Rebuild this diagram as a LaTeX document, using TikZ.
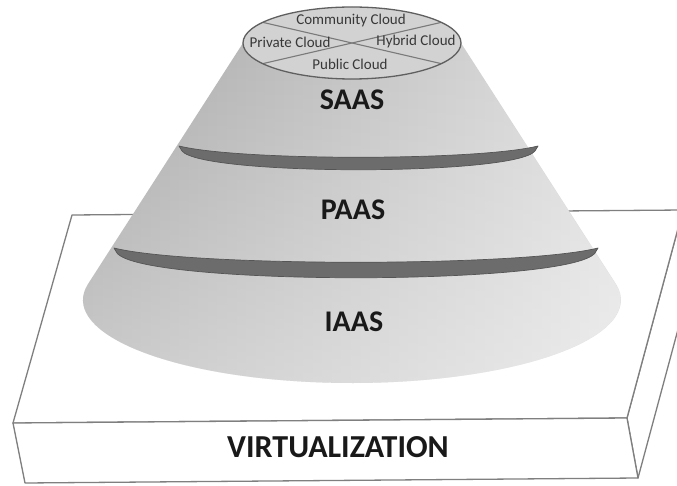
\documentclass[tikz,border=0pt]{standalone}
\usepackage{fontspec}
\setmainfont{Carlito}
\usepackage{tikz}
\usetikzlibrary{calc}
\usetikzlibrary{fadings}
\definecolor{slabgray}{HTML}{7F7F7F}
\definecolor{conedark}{HTML}{A6A6A6}
\definecolor{conemid}{HTML}{C8C8C8}
\definecolor{conelight}{HTML}{E2E2E2}
\definecolor{rimgray}{HTML}{6C6C6C}
\definecolor{rimedge}{HTML}{555555}
\definecolor{capfill}{HTML}{D2D2D2}
\definecolor{capedge}{HTML}{5F5F5F}
\definecolor{capline}{HTML}{7A7A7A}

\begin{document}
\begin{tikzpicture}
	[x=1pt,y=1pt,
	slab/.style={draw=slabgray,line width=1.3pt,fill=white,line join=round},
	rim/.style={fill=rimgray,draw=rimedge,line width=0.7pt,line join=round},
	cloudlabel/.style={font=\fontsize{15}{15}\selectfont,text=black!78},
	layerlabel/.style={font=\fontsize{30}{30}\selectfont\bfseries,text=black!90}]
	\useasboundingbox (0,0) rectangle (677,485);
	% the slab
	\coordinate (bl) at (72,270);
	\coordinate (br) at (683,275);
	\coordinate (fl) at (13,62);
	\coordinate (fr) at (627,67);
	\coordinate (flb) at (25,2);
	\coordinate (frb) at (638,7);
	\coordinate (brb) at (694,215);
	\draw[slab] (fr) -- (br) -- (brb) -- (frb) -- cycle;
	\draw[slab] (bl) -- (br) -- (fr) -- (fl) -- cycle;
	\draw[slab] (fl) -- (fr) -- (frb) -- (flb) -- cycle;
	\node[layerlabel,font=\fontsize{32}{32}\selectfont\bfseries] (virt) at (338,38) {VIRTUALIZATION};
	% the cone
	\coordinate (top) at (352,442);
	\coordinate (base) at (352,185);
	\path[left color=conedark,middle color=conemid,right color=conelight]
		($(top)+(180:109 and 36)$) -- ($(base)+(169:269 and 83)$)
		arc[start angle=169,end angle=371,x radius=269,y radius=83]
		-- ($(top)+(0:109 and 36)$) -- cycle;
	\fill[white,path fading=north,fill opacity=0.4]
		($(top)+(180:109 and 36)$) -- ($(base)+(169:269 and 83)$)
		arc[start angle=169,end angle=371,x radius=269,y radius=83]
		-- ($(top)+(0:109 and 36)$) -- cycle;
	% rims between the layers
	\draw[rim] (179,339) .. controls (240,324) and (477,324) .. (538,339)
		-- (535,334) .. controls (515,309) and (202,309) .. (182,334) -- cycle;
	\draw[rim] (114,237) .. controls (190,218) and (522,218) .. (598,237)
		-- (595,232) .. controls (570,199) and (142,199) .. (117,232) -- cycle;
	\node[layerlabel] (saas) at (352,385) {SAAS};
	\node[layerlabel] (paas) at (353,275) {PAAS};
	\node[layerlabel] (iaas) at (354,163) {IAAS};
	% the cap
	\fill[capfill] (top) ellipse [x radius=109,y radius=36];
	\draw[capline,line width=1.1pt] ($(top)+(145:109 and 36)$) -- ($(top)+(-35:109 and 36)$);
	\draw[capline,line width=1.1pt] ($(top)+(215:109 and 36)$) -- ($(top)+(35:109 and 36)$);
	\draw[capedge,line width=1.3pt] (top) ellipse [x radius=109,y radius=36];
	\node[cloudlabel] (community) at (351,464) {Community Cloud};
	\node[cloudlabel] (private) at (290,443) {Private Cloud};
	\node[cloudlabel] (hybrid) at (416,443) {Hybrid Cloud};
	\node[cloudlabel] (public) at (350,421) {Public Cloud};
\end{tikzpicture}
\end{document}
